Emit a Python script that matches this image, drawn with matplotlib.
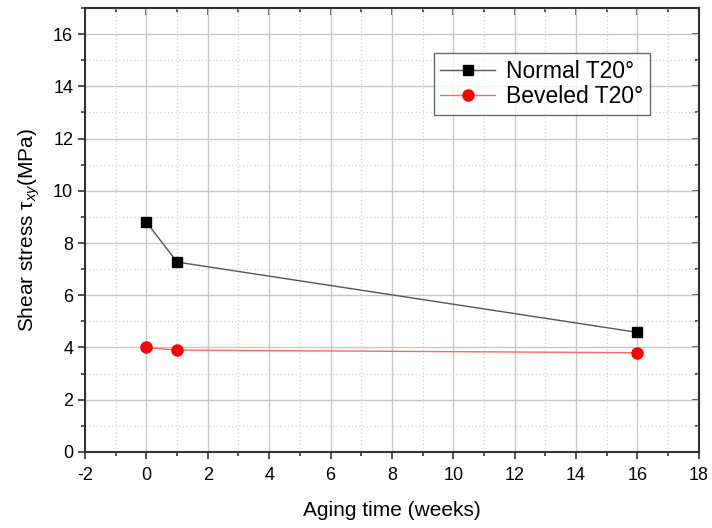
import matplotlib
matplotlib.use("Agg")
import matplotlib.pyplot as plt
from matplotlib.ticker import MultipleLocator

plt.rcParams['font.family'] = ['Liberation Sans', 'DejaVu Sans']
plt.rcParams['mathtext.fontset'] = 'custom'
plt.rcParams['mathtext.rm'] = 'Liberation Sans'
plt.rcParams['mathtext.it'] = 'Liberation Sans:italic'
plt.rcParams['axes.unicode_minus'] = False

weeks = [0, 1, 16]
normal = [8.8, 7.27, 4.58]
beveled = [4.0, 3.9, 3.8]

fig = plt.figure(figsize=(7.12, 5.28), dpi=100)
ax = fig.add_axes([0.1194, 0.144, 0.862, 0.841])

ax.plot(weeks, normal, color='#555555', lw=1, marker='s', ms=7, mfc='black', mec='black', label='Normal T20°', zorder=3)
ax.plot(weeks, beveled, color='#ff6666', lw=1, marker='o', ms=8, mfc='red', mec='red', label='Beveled T20°', zorder=3)

ax.set_xlim(-2, 18)
ax.set_ylim(0, 17)
ax.xaxis.set_major_locator(MultipleLocator(2))
ax.xaxis.set_minor_locator(MultipleLocator(1))
ax.yaxis.set_major_locator(MultipleLocator(2))
ax.yaxis.set_minor_locator(MultipleLocator(1))
ax.yaxis.set_major_formatter(plt.FuncFormatter(lambda v, p: f"{int(v)}" if v <= 16 else ""))

ax.grid(which='major', color='#c8c8c8', lw=1, ls='-')
ax.grid(which='minor', color='#d0d0d0', lw=0.9, ls=(0, (1, 2)))
ax.set_axisbelow(True)

for s in ax.spines.values():
    s.set_linewidth(1.5)
    s.set_color('#333333')

ax.tick_params(which='both', labelsize=13, width=1.2, color='#333333')
ax.tick_params(which='major', length=5)
ax.tick_params(which='minor', length=3)
ax.tick_params(which='both', bottom=True, left=True, top=False, right=False, direction='out')
ax.tick_params(axis='x', pad=6)

# inward ticks on top and right via secondary axes
sx = ax.secondary_xaxis('top')
sx.xaxis.set_major_locator(MultipleLocator(2))
sx.xaxis.set_minor_locator(MultipleLocator(1))
sx.tick_params(which='both', direction='in', labeltop=False, width=1.2, color='#333333')
sx.tick_params(which='major', length=5)
sx.tick_params(which='minor', length=3)
sx.spines['top'].set_linewidth(1.5)
sx.spines['top'].set_color('#333333')
sy = ax.secondary_yaxis('right')
sy.yaxis.set_major_locator(MultipleLocator(2))
sy.yaxis.set_minor_locator(MultipleLocator(1))
sy.tick_params(which='both', direction='in', labelright=False, width=1.2, color='#333333')
sy.tick_params(which='major', length=5)
sy.tick_params(which='minor', length=3)
sy.spines['right'].set_linewidth(1.5)
sy.spines['right'].set_color('#333333')

ax.set_xlabel('Aging time (weeks)', fontsize=15, labelpad=12)
ax.set_ylabel(r'Shear stress τ$_{xy}$(MPa)', fontsize=15, labelpad=8)

leg = ax.legend(loc='upper left', bbox_to_anchor=(0.568, 0.899), borderaxespad=0, fontsize=16.5, frameon=True,
                fancybox=False, edgecolor='#444444', handlelength=2.4, borderpad=0.3, labelspacing=0.1,
                handletextpad=0.45)
leg.get_frame().set_linewidth(1.0)

fig.savefig('out.png', dpi=100)
